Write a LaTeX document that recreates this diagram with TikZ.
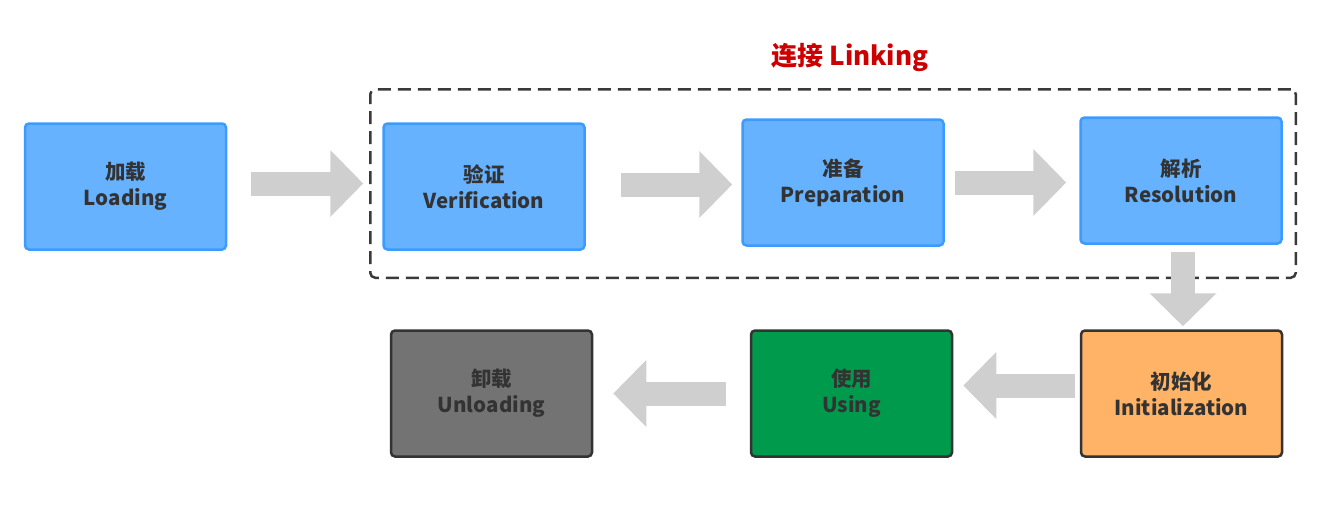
\documentclass[tikz,border=0pt]{standalone}
\usepackage{fontspec}
\setmainfont{Noto Sans CJK SC}
\usetikzlibrary{arrows.meta}
\definecolor{stagefill}{HTML}{66B2FF}
\definecolor{stageline}{HTML}{3D9BFF}
\definecolor{stagetext}{HTML}{333333}
\definecolor{darkline}{HTML}{333333}
\definecolor{initorange}{HTML}{FFB366}
\definecolor{usegreen}{HTML}{009A4D}
\definecolor{unloadgray}{HTML}{737373}
\definecolor{flowgray}{HTML}{CFCFCF}
\definecolor{framegray}{HTML}{3A3A3A}
\definecolor{linkred}{HTML}{CC0000}
\begin{document}
\begin{tikzpicture}[x=1pt,y=-1pt,
stage/.style={%
line width=2.5pt,
rounded corners=4pt,
minimum width=201pt,
minimum height=126pt,
align=center,
text=stagetext,
font=\bfseries\fontsize{20.5}{26}\selectfont
},
bluestage/.style={%
stage,
draw=stageline,
fill=stagefill
},
latestage/.style={%
stage,
draw=darkline
},
flow/.style={%
draw=flowgray,
line width=24pt,
-{Triangle[length=33pt,width=65pt]}
},
linkframe/.style={%
draw=framegray,
line width=2.5pt,
dash pattern=on 13pt off 7pt,
rounded corners=5pt
}
]
\useasboundingbox(0,0)rectangle(1337,511);
%% Linking frame
\node[linkframe,minimum width=925.5pt,minimum height=188.5pt]at(833,183.5)(link){};
\node[font=\bfseries\fontsize{26}{30}\selectfont,text=linkred]at(850,57)(linktitle){连接 Linking};
%% Top row
\node[bluestage]at(125.5,186.5)(load){加载\\Loading};
\node[bluestage]at(484,186.5)(verif){验证\\Verification};
\node[bluestage]at(843,182.5)(prep){准备\\Preparation};
\node[bluestage]at(1181,180.5)(res){解析\\Resolution};
%% Bottom row
\node[latestage,fill=initorange]at(1181.5,393.5)(init){初始化\\Initialization};
\node[latestage,fill=usegreen]at(851.5,393.5)(use){使用\\Using};
\node[latestage,fill=unloadgray]at(491.5,393.5)(unload){卸载\\Unloading};
%% Flow
\draw[flow,shorten <=24pt,shorten >=19pt]([yshift=3pt]load.east)--([yshift=3pt]load.east -| verif.west);
\draw[flow,shorten <=35pt,shorten >=9pt]([yshift=2pt]verif.east)--([yshift=2pt]verif.east -| prep.west);
\draw[flow,shorten <=10pt,shorten >=13pt](prep.east)--(prep.east -| res.west);
\draw[flow,shorten <=7pt,shorten >=3pt]([xshift=2pt]res.south)--([xshift=2pt]res.south |- init.north);
\draw[flow,shorten <=5pt,shorten >=10pt]([yshift=8pt]init.west)--([yshift=8pt]init.west -| use.east);
\draw[flow,shorten <=24pt,shorten >=20pt](use.west)--(use.west -| unload.east);
\end{tikzpicture}
\end{document}
